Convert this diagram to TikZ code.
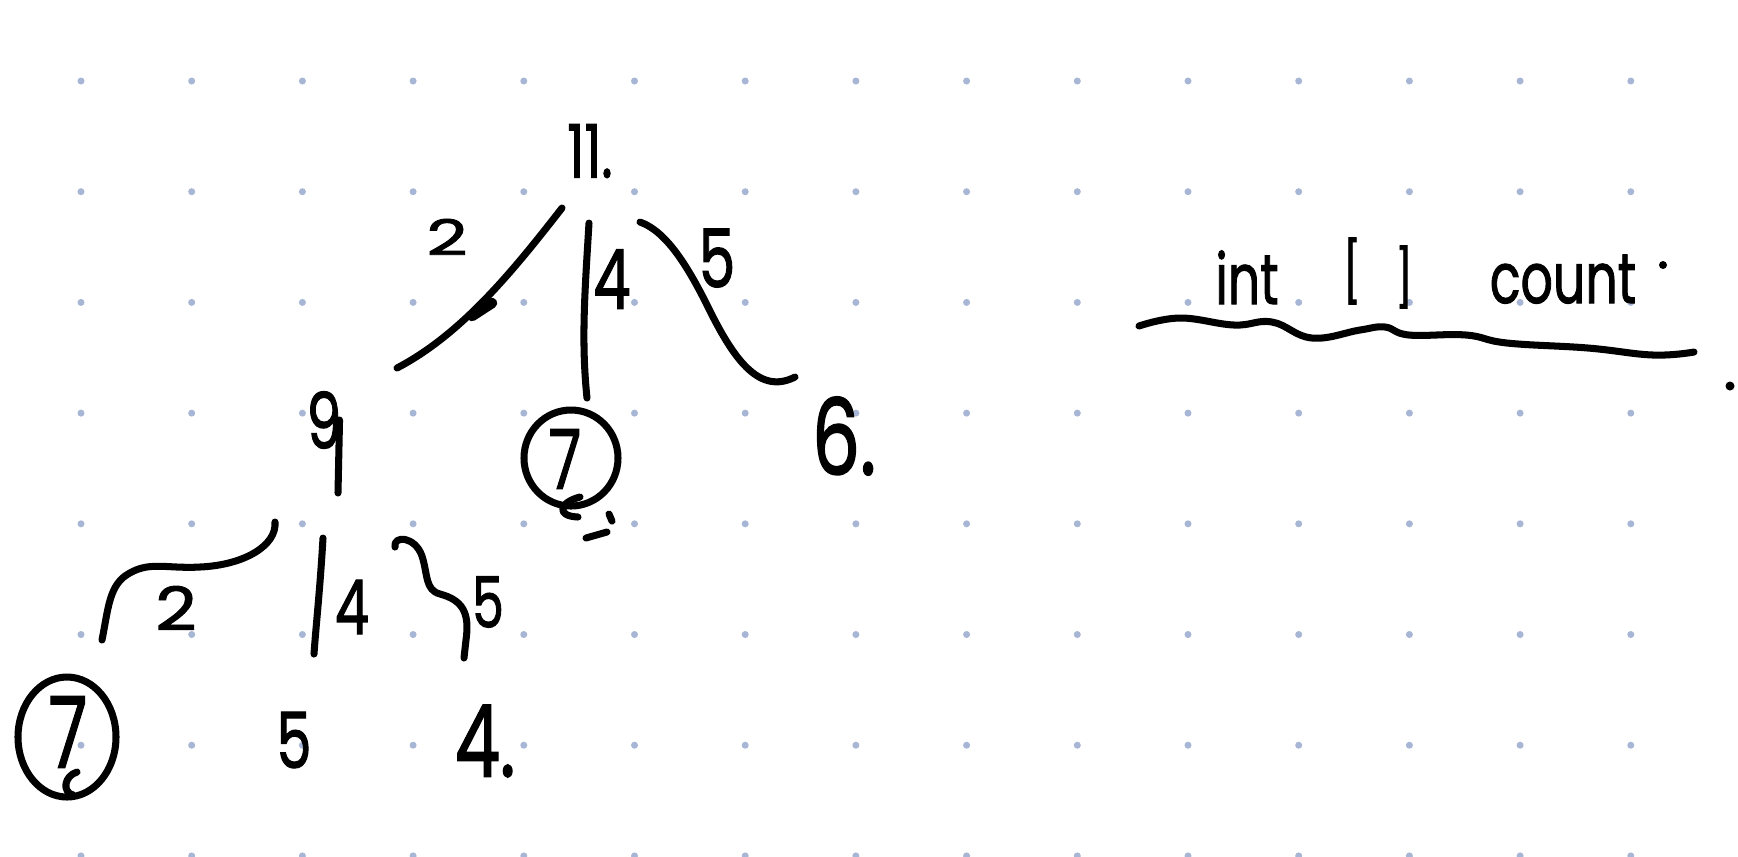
\documentclass[tikz,border=0pt]{standalone}
\usepackage{graphicx}
\usepackage{fontspec}
\setmainfont{Poppins}
\newfontfamily\hwf{Poppins}[FakeBold=1.6]
\definecolor{dotc}{RGB}{166,182,212}
\tikzset{
  pen/.style={line width=2pt, line cap=round, line join=round, draw=black},
  hw/.style={inner sep=0pt, outer sep=0pt, text=black},
}
\newcommand\hwt[2]{\fontsize{#1}{#1}\selectfont\hwf\scalebox{0.72}[1]{#2}}
\newcommand\hwx[3]{\fontsize{#1}{#1}\selectfont\hwf\scalebox{#2}[1]{#3}}
\begin{document}
\begin{tikzpicture}[x=0.01cm,y=-0.01cm]
\useasboundingbox (0,0) rectangle (1738,856);
\fill[white] (0,0) rectangle (1738,856);
\begin{scope}
\clip (0,0) rectangle (1738,856);
\foreach \i in {0,...,15}{\foreach \j in {0,...,7}{\fill[dotc] ({81+110.7*\i},{81+110.7*\j}) circle (0.035cm);}}
\end{scope}

% ---- nodes (numbers) ----
\node[hw] (root) at (590,151) {\hwt{21pt}{11.}};
\node[hw] (l2a) at (447,237) {\hwx{14pt}{1.45}{2}};
\node[hw] (l4a) at (612,279) {\hwt{23.5pt}{4}};
\node[hw] (l5a) at (717,258) {\hwt{23pt}{5}};
\node[hw] (n9) at (324,420) {\hwt{22pt}{9}};
\node[hw] (n7a) at (565,459) {\hwt{23.5pt}{7}};
\node[hw] (n6) at (844,436) {\hwt{30pt}{6.}};
\node[hw] (l2b) at (176,608) {\hwx{17pt}{1.2}{2}};
\node[hw] (l4b) at (352,607) {\hwt{21.5pt}{4}};
\node[hw] (l5b) at (488,602) {\hwt{20pt}{5}};
\node[hw] (n7b) at (68,732) {\hwt{28pt}{7}};
\node[hw] (n5) at (294,740) {\hwt{22pt}{5}};
\node[hw] (n4) at (485,741) {\hwt{28.5pt}{4.}};

% ---- title ----
\node[hw, anchor=base] (tint) at (1247,304) {\hwt{20pt}{int}};
\node[hw] (tlb) at (1352,271) {\hwt{17pt}{[}};
\node[hw] (trb) at (1404,277) {\hwt{16pt}{]}};
\node[hw, anchor=base] (tcount) at (1563,303) {\hwt{20pt}{count}};
\fill (1663,265) circle (0.04cm);
\fill (1730,386) circle (0.045cm);
\draw[pen] plot[smooth, tension=0.7] coordinates {(1139,326) (1180,318) (1234,325) (1272,322) (1312,338) (1360,330) (1385,327) (1409,335) (1466,335) (1507,343) (1588,348) (1653,355) (1694,352)};

% ---- connectors, top level ----
\coordinate (e1s) at (562,208); \coordinate (e1t) at (397,368);
\draw[pen] (e1s) .. controls (510,275) and (460,335) .. (e1t);
\draw[pen, line width=3pt] (472,316) -- (492,303);
\coordinate (e2s) at (589,223); \coordinate (e2t) at (587,398);
\draw[pen] (e2s) .. controls (585,290) and (581,340) .. (e2t);
\coordinate (e3s) at (640,222); \coordinate (e3m) at (712,315); \coordinate (e3t) at (795,377);
\draw[pen] (e3s) .. controls (668,232) and (690,270) .. (e3m) .. controls (735,360) and (760,395) .. (e3t);

% ---- stem of 9 ----
\coordinate (n9s) at (n9.east); \coordinate (n9e) at (338,493);
\draw[pen] ([xshift=-0.02cm]n9s) -- (n9e);

% ---- connectors, second level ----
\coordinate (e4s) at (275,522); \coordinate (e4t) at (102,640);
\draw[pen] (e4s) .. controls (277,545) and (245,565) .. (200,567) .. controls (165,569) and (148,560) .. (125,576) .. controls (109,588) and (108,610) .. (e4t);
\coordinate (e5s) at (323,538); \coordinate (e5t) at (314,654);
\draw[pen] (e5s) .. controls (320,590) and (316,625) .. (e5t);
\coordinate (e6s) at (395,547); \coordinate (e6t) at (464,658);
\draw[pen] (e6s) .. controls (393,535) and (415,536) .. (422,556) .. controls (428,575) and (425,590) .. (440,594) .. controls (462,600) and (470,612) .. (466,640) -- (e6t);

% ---- circles ----
\draw[pen] (571,458) ellipse [x radius=47, y radius=48];
\draw[pen] (580,497) .. controls (560,502) and (555,516) .. (578,517);
\draw[pen] (586,538) -- (607,532);
\draw[pen] (609,514) -- (612,521);
\draw[pen] (67,737) ellipse [x radius=49, y radius=60];
\draw[pen] (77,772) .. controls (64,776) and (62,792) .. (73,795);
\end{tikzpicture}
\end{document}
